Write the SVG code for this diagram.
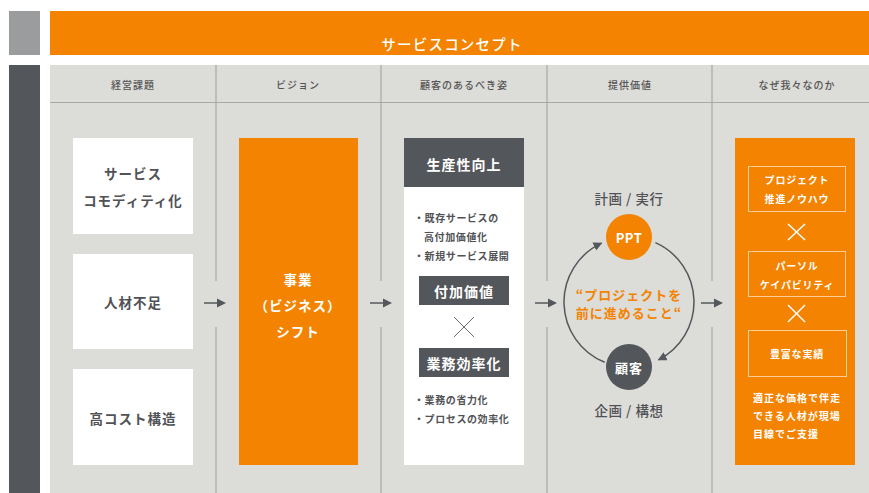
<svg xmlns="http://www.w3.org/2000/svg" width="869" height="493" viewBox="0 0 869 493">
<defs>
<style>
text{font-family:"Noto Sans CJK JP","Noto Sans",sans-serif;dominant-baseline:central;text-anchor:middle}
.hd{font-size:10px;font-weight:500;fill:#555555;letter-spacing:1px}
.lb{font-size:13.5px;font-weight:bold;fill:#505256;letter-spacing:1px}
.wb{font-size:13.5px;font-weight:bold;fill:#ffffff;letter-spacing:1px}
.sm{font-size:10px;font-weight:bold;fill:#505256;letter-spacing:0.6px;text-anchor:start}
.sw{font-size:10px;font-weight:bold;fill:#ffffff;letter-spacing:0.8px}
.sep{stroke:#a8a8a6;stroke-width:1.2}
.arr{stroke:#54575b;stroke-width:1.5;fill:none}
.ah{fill:#54575b}
.box{fill:#ffffff}
.org{fill:#f38300}
.dk{fill:#53565a}
.ib{fill:none;stroke:#ffffff;stroke-opacity:0.6;stroke-width:1}
.xw{stroke:#ffffff;stroke-width:1.5}
.xg{stroke:#6a6c70;stroke-width:1}
</style>
<marker id="mh" markerUnits="userSpaceOnUse" markerWidth="10" markerHeight="10" refX="8" refY="4.5" orient="auto">
<path d="M0,0 L9,4.5 L0,9 z" fill="#54575b"/>
</marker>
</defs>

<rect x="9" y="11" width="31" height="44" fill="#9b9c9d"/>
<rect x="9" y="65" width="31" height="428" fill="#53565a"/>
<rect x="50" y="11" width="819" height="44" class="org"/>
<text x="452" y="43" style="font-size:14.5px;font-weight:500;fill:#fff;letter-spacing:1.2px">サービスコンセプト</text>

<rect x="50" y="65" width="819" height="428" fill="#dcdcd8"/>
<line x1="50" y1="102.5" x2="869" y2="102.5" class="sep"/>

<g id="headers">
<text x="133" y="84" class="hd">経営課題</text>
<text x="298" y="84" class="hd">ビジョン</text>
<text x="464" y="84" class="hd">顧客のあるべき姿</text>
<text x="630" y="84" class="hd">提供価値</text>
<text x="797" y="84" class="hd">なぜ我々なのか</text>
</g>

<g id="separators">
<line x1="216" y1="65" x2="216" y2="281" class="sep"/><line x1="216" y1="327" x2="216" y2="493" class="sep"/>
<line x1="381" y1="65" x2="381" y2="281" class="sep"/><line x1="381" y1="327" x2="381" y2="493" class="sep"/>
<line x1="547" y1="65" x2="547" y2="281" class="sep"/><line x1="547" y1="327" x2="547" y2="493" class="sep"/>
<line x1="712" y1="65" x2="712" y2="281" class="sep"/><line x1="712" y1="327" x2="712" y2="493" class="sep"/>
</g>

<g id="issue1">
<rect x="73" y="138" width="120" height="96" class="box"/>
<text x="133" y="173" class="lb">サービス</text>
<text x="133" y="200" class="lb">コモディティ化</text>
</g>
<g id="issue2">
<rect x="73" y="254" width="120" height="95" class="box"/>
<text x="133" y="302" class="lb">人材不足</text>
</g>
<g id="issue3">
<rect x="73" y="369" width="120" height="96" class="box"/>
<text x="133" y="418" class="lb">高コスト構造</text>
</g>

<g id="vision">
<rect x="239" y="138" width="119" height="327" class="org"/>
<text x="298" y="279" class="wb">事業</text>
<text x="298" y="305" class="wb">（ビジネス）</text>
<text x="298" y="331" class="wb">シフト</text>
</g>

<g id="customer">
<rect x="404" y="138" width="120" height="327" class="box"/>
<rect x="404" y="138" width="120" height="49" class="dk"/>
<text x="464" y="164" class="wb" style="font-size:14px">生産性向上</text>
<text x="414" y="217" class="sm">・既存サービスの</text>
<text x="424" y="236" class="sm">高付加価値化</text>
<text x="414" y="255" class="sm">・新規サービス展開</text>
<rect x="419" y="276" width="90" height="29" class="dk"/>
<text x="464" y="290.5" class="wb" style="font-size:14px">付加価値</text>
<line x1="454" y1="317" x2="474" y2="337" class="xg"/><line x1="474" y1="317" x2="454" y2="337" class="xg"/>
<rect x="419" y="348" width="90" height="29" class="dk"/>
<text x="464" y="362.5" class="wb" style="font-size:14px">業務効率化</text>
<text x="414" y="399" class="sm">・業務の省力化</text>
<text x="414" y="418" class="sm">・プロセスの効率化</text>
</g>

<g id="value">
<text x="629" y="198" class="lb" style="font-weight:500;letter-spacing:0.5px">計画 / 実行</text>
<circle cx="629" cy="237" r="23" class="org"/>
<text x="629" y="237" class="wb" style="font-size:13px;letter-spacing:0.5px">PPT</text>
<circle cx="629" cy="367" r="23" class="dk"/>
<text x="629" y="367" class="wb" style="font-size:13px">顧客</text>
<text x="629" y="294" class="wb" style="fill:#f38300;font-size:13px">“プロジェクトを</text>
<text x="629" y="312" class="wb" style="fill:#f38300;font-size:13px">前に進めること“</text>
<text x="629" y="410" class="lb" style="font-weight:500;letter-spacing:0.5px">企画 / 構想</text>
</g>

<g id="why">
<rect x="735" y="138" width="120" height="327" class="org"/>
<rect x="748.5" y="166.5" width="97" height="45" class="ib"/>
<text x="797" y="179" class="sw">プロジェクト</text>
<text x="797" y="198" class="sw">推進ノウハウ</text>
<line x1="788" y1="224" x2="805" y2="240" class="xw"/><line x1="805" y1="224" x2="788" y2="240" class="xw"/>
<rect x="748.5" y="251.5" width="97" height="45" class="ib"/>
<text x="797" y="265" class="sw">パーソル</text>
<text x="797" y="284" class="sw">ケイパビリティ</text>
<line x1="788" y1="305" x2="805" y2="322" class="xw"/><line x1="805" y1="305" x2="788" y2="322" class="xw"/>
<rect x="748.5" y="330.5" width="98" height="46" class="ib"/>
<text x="797" y="353" class="sw">豊富な実績</text>
<text x="753" y="397" class="sw" style="text-anchor:start;letter-spacing:1px">適正な価格で伴走</text>
<text x="753" y="415" class="sw" style="text-anchor:start;letter-spacing:1px">できる人材が現場</text>
<text x="753" y="433" class="sw" style="text-anchor:start;letter-spacing:1px">目線でご支援</text>
</g>

<g id="connectors">
<line x1="204" y1="303" x2="218" y2="303" class="arr"/><path d="M217,298.5 L226,303 L217,307.5 z" class="ah"/>
<line x1="370" y1="303" x2="384" y2="303" class="arr"/><path d="M383,298.5 L392,303 L383,307.5 z" class="ah"/>
<line x1="535" y1="303" x2="549" y2="303" class="arr"/><path d="M548,298.5 L557,303 L548,307.5 z" class="ah"/>
<line x1="701" y1="303" x2="715" y2="303" class="arr"/><path d="M714,298.5 L723,303 L714,307.5 z" class="ah"/>
<path d="M604.7,362.3 A65,65 0 0 1 601.5,243.1" class="arr" stroke="#707276" stroke-width="1.2" marker-end="url(#mh)"/>
<path d="M655.4,242.6 A65,65 0 0 1 658.5,359.9" class="arr" stroke="#707276" stroke-width="1.2" marker-end="url(#mh)"/>
</g>
</svg>
